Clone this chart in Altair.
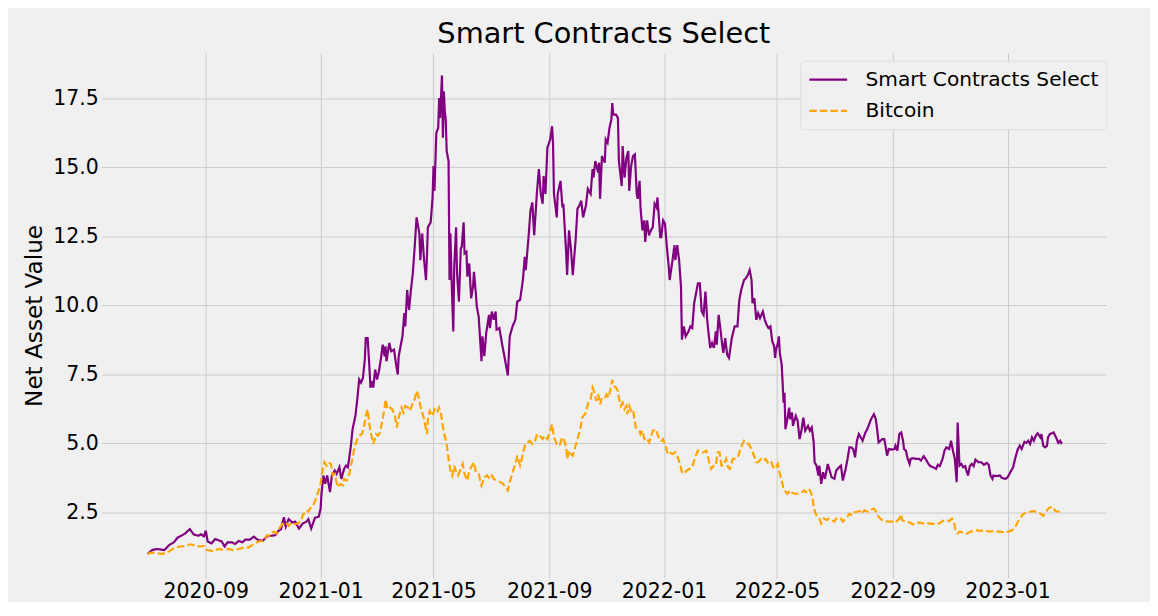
import altair as alt
import pandas as pd

SERIES = ["Smart Contracts Select", "Bitcoin"]
START = "2020-07-01"

# day offsets from START and net asset values, Smart Contracts Select
P_DAYS = [
    0, 5, 10, 18, 23, 28, 32, 37, 40, 45,
    49, 54, 57, 60, 62, 64, 68, 72, 76, 79,
    82, 85, 90, 93, 97, 101, 104, 109, 113, 116,
    120, 123, 127, 132, 136, 139, 142, 145, 147, 150,
    154, 157, 161, 165, 169, 171, 174, 178, 182, 184,
    185, 187, 189, 191, 194, 196, 199, 201, 204, 206,
    209, 211, 213, 216, 218, 221, 223, 225, 227, 229,
    231, 232, 234, 236, 237, 239, 240, 242, 244, 246,
    248, 250, 252, 253, 254, 257, 259, 262, 264, 266,
    267, 270, 271, 273, 274, 276, 278, 280, 282, 284,
    286, 289, 290, 292, 294, 296, 297, 298, 301, 303,
    304, 305, 307, 309, 310, 311, 313, 314, 315, 316,
    317, 318, 320, 321, 322, 323, 325, 326, 328, 329,
    331, 333, 334, 336, 337, 339, 340, 342, 344, 346,
    347, 349, 350, 352, 355, 356, 358, 360, 363, 364,
    366, 368, 370, 371, 374, 377, 379, 383, 385, 388,
    391, 393, 396, 399, 401, 402, 405, 407, 409, 411,
    414, 416, 418, 420, 421, 423, 425, 428, 430, 431,
    432, 435, 436, 439, 441, 442, 445, 446, 448, 450,
    452, 455, 457, 459, 461, 463, 466, 468, 471, 473,
    474, 476, 479, 480, 481, 483, 486, 487, 489, 491,
    493, 494, 495, 498, 500, 501, 504, 505, 507, 509,
    511, 512, 514, 516, 518, 520, 521, 523, 524, 526,
    528, 529, 531, 533, 535, 537, 539, 541, 542, 545,
    546, 548, 550, 552, 554, 555, 558, 560, 561, 563,
    565, 567, 568, 570, 572, 575, 577, 579, 581, 583,
    585, 587, 589, 591, 593, 595, 598, 600, 602, 604,
    605, 607, 609, 611, 612, 614, 616, 618, 621, 624,
    627, 629, 631, 634, 636, 638, 640, 642, 643, 645,
    647, 649, 651, 654, 656, 658, 660, 662, 664, 666,
    667, 668, 670, 671, 672, 674, 675, 676, 677, 678,
    680, 682, 683, 685, 686, 689, 691, 693, 695, 697,
    699, 702, 704, 706, 708, 709, 711, 713, 714, 716,
    718, 720, 723, 725, 727, 730, 732, 735, 737, 739,
    742, 744, 746, 748, 750, 752, 754, 756, 758, 760,
    763, 765, 767, 769, 772, 774, 775, 777, 779, 781,
    783, 785, 786, 788, 791, 794, 795, 797, 799, 801,
    803, 804, 806, 808, 810, 811, 813, 817, 820, 822,
    825, 827, 830, 832, 835, 838, 840, 842, 845, 847,
    849, 852, 854, 856, 858, 860, 861, 863, 865, 867,
    869, 872, 874, 876, 878, 880, 883, 886, 889, 892,
    894, 896, 898, 899, 902, 906, 908, 912, 914, 917,
    920, 922, 925, 927, 929, 932, 934, 936, 938, 940,
    942, 944, 946, 949, 950, 952, 954, 956, 957, 959,
    963, 966, 968, 970, 971, 972,
]
P_VALS = [
    1.00, 1.14, 1.18, 1.14, 1.32, 1.42, 1.59, 1.68, 1.74, 1.90,
    1.71, 1.66, 1.71, 1.64, 1.84, 1.45, 1.38, 1.54, 1.49, 1.45,
    1.27, 1.42, 1.42, 1.36, 1.47, 1.42, 1.52, 1.52, 1.63, 1.54,
    1.48, 1.49, 1.64, 1.66, 1.68, 1.83, 1.90, 2.33, 1.99, 2.26,
    2.14, 2.17, 1.92, 2.10, 2.17, 2.26, 1.92, 2.31, 2.35, 2.64,
    3.20, 3.84, 3.54, 3.84, 3.24, 3.84, 4.02, 3.90, 4.14, 3.72,
    4.08, 4.20, 4.14, 4.86, 5.52, 6.00, 6.60, 7.32, 7.20, 7.38,
    8.04, 8.82, 8.82, 7.68, 7.02, 7.26, 7.02, 7.68, 7.32, 7.62,
    8.04, 8.58, 8.16, 8.52, 7.98, 8.64, 8.34, 8.40, 7.92, 7.50,
    8.16, 8.70, 8.88, 9.72, 9.24, 10.56, 9.84, 10.56, 11.16, 12.12,
    13.19, 12.60, 11.64, 12.60, 11.64, 10.92, 11.76, 12.83, 13.01, 13.91,
    15.05, 14.15, 16.25, 16.43, 17.51, 16.79, 18.33, 16.07, 17.75, 17.03,
    16.73, 15.59, 15.23, 10.92, 12.60, 11.16, 9.06, 11.40, 12.83, 11.16,
    10.14, 12.06, 12.12, 13.01, 11.88, 11.94, 11.04, 11.52, 10.26, 10.68,
    11.22, 10.44, 9.96, 9.60, 7.98, 8.88, 8.16, 9.00, 9.66, 9.18,
    9.78, 9.48, 9.78, 9.12, 9.18, 8.58, 8.22, 7.46, 8.88, 9.24,
    9.48, 10.14, 10.20, 10.92, 11.76, 11.28, 12.47, 13.43, 13.73, 12.54,
    14.15, 14.94, 14.04, 13.68, 14.69, 14.04, 15.71, 16.01, 16.49, 15.89,
    14.04, 13.19, 14.04, 14.51, 13.55, 13.68, 11.88, 11.10, 12.72, 12.06,
    11.10, 12.36, 13.50, 13.62, 13.79, 13.19, 13.62, 14.22, 14.04, 14.94,
    14.63, 15.23, 14.81, 15.17, 13.86, 15.41, 15.17, 16.01, 15.89, 16.43,
    16.73, 17.33, 16.91, 16.91, 16.79, 15.23, 14.33, 15.77, 14.63, 15.35,
    15.59, 14.15, 15.05, 15.41, 15.47, 14.04, 13.86, 14.51, 13.55, 12.72,
    13.08, 12.30, 13.08, 12.54, 12.72, 12.83, 13.68, 13.55, 13.91, 12.47,
    12.47, 13.08, 12.96, 12.12, 11.40, 10.92, 11.64, 12.18, 11.64, 12.18,
    11.64, 10.68, 8.76, 9.24, 8.88, 9.06, 9.24, 9.18, 10.08, 10.44,
    10.80, 10.80, 9.78, 9.66, 10.50, 9.42, 8.46, 8.64, 8.46, 9.06,
    8.58, 9.66, 9.12, 8.52, 8.28, 8.82, 8.22, 8.10, 8.82, 9.24,
    9.24, 10.20, 10.56, 10.92, 10.98, 11.10, 11.28, 10.92, 10.08, 10.26,
    9.48, 9.72, 9.54, 9.78, 9.48, 9.30, 9.18, 9.24, 8.70, 8.52,
    8.10, 8.40, 8.64, 8.88, 8.28, 7.86, 7.20, 6.48, 6.84, 5.52,
    5.88, 6.30, 5.88, 6.12, 5.64, 6.00, 5.82, 5.16, 5.46, 5.94,
    5.46, 5.64, 5.46, 5.58, 5.04, 4.32, 4.20, 3.84, 4.20, 3.54,
    3.96, 3.72, 4.26, 4.02, 3.78, 3.72, 4.02, 4.14, 4.20, 3.66,
    4.08, 4.44, 4.86, 4.86, 4.80, 4.50, 5.10, 5.34, 5.22, 5.10,
    5.40, 5.52, 5.70, 5.88, 6.06, 5.88, 5.64, 5.04, 5.10, 5.16,
    5.16, 4.80, 4.56, 4.80, 4.78, 4.80, 4.92, 4.74, 5.34, 5.40,
    5.10, 4.80, 4.74, 4.44, 4.26, 4.44, 4.47, 4.44, 4.44, 4.38,
    4.54, 4.44, 4.26, 4.18, 4.14, 4.08, 4.23, 4.18, 4.44, 4.74,
    4.86, 4.80, 5.10, 4.74, 4.44, 3.60, 5.76, 4.20, 4.26, 4.14,
    4.18, 3.84, 4.18, 4.26, 4.18, 4.42, 4.32, 4.32, 4.23, 4.30,
    4.23, 3.84, 3.72, 3.84, 3.82, 3.84, 3.75, 3.72, 3.77, 3.96,
    4.14, 4.44, 4.80, 4.92, 4.80, 5.06, 5.02, 5.10, 4.98, 5.22,
    5.10, 5.28, 5.37, 5.22, 5.34, 4.92, 4.86, 4.92, 5.22, 5.34,
    5.40, 5.19, 5.02, 5.10, 5.02, 5.06,
]

# day offsets from START and net asset values, Bitcoin
B_DAYS = [
    0, 3, 9, 16, 21, 25, 30, 35, 40, 46,
    51, 56, 60, 63, 69, 76, 81, 86, 91, 97,
    102, 107, 113, 118, 123, 127, 130, 134, 137, 140,
    143, 147, 150, 153, 157, 159, 163, 165, 169, 171,
    174, 177, 179, 182, 184, 186, 188, 190, 192, 195,
    197, 199, 202, 205, 208, 209, 212, 215, 217, 220,
    223, 225, 228, 230, 232, 234, 236, 238, 240, 243,
    245, 247, 250, 252, 253, 255, 258, 260, 263, 265,
    267, 270, 272, 274, 277, 279, 282, 284, 286, 288,
    290, 292, 294, 297, 298, 300, 303, 305, 308, 310,
    312, 315, 318, 320, 322, 324, 326, 328, 330, 333,
    335, 337, 340, 342, 345, 347, 349, 352, 354, 355,
    358, 361, 364, 366, 368, 371, 375, 378, 383, 385,
    388, 391, 393, 396, 399, 401, 404, 406, 409, 412,
    414, 417, 420, 422, 425, 428, 430, 432, 435, 438,
    440, 442, 445, 446, 448, 450, 452, 455, 458, 460,
    462, 465, 466, 468, 471, 473, 475, 477, 479, 481,
    483, 486, 488, 490, 492, 494, 496, 498, 500, 501,
    503, 505, 507, 509, 510, 512, 514, 516, 517, 519,
    521, 523, 524, 526, 528, 530, 533, 535, 537, 540,
    542, 544, 546, 548, 550, 553, 555, 558, 561, 563,
    566, 568, 570, 573, 575, 579, 582, 585, 588, 591,
    594, 597, 599, 602, 604, 606, 608, 610, 612, 615,
    617, 619, 622, 625, 628, 630, 634, 636, 639, 642,
    644, 647, 649, 652, 655, 657, 660, 663, 665, 667,
    669, 670, 672, 674, 676, 677, 680, 683, 685, 688,
    692, 695, 698, 700, 703, 705, 707, 708, 710, 712,
    714, 716, 719, 722, 724, 727, 730, 732, 735, 737,
    739, 742, 744, 746, 749, 751, 754, 757, 759, 762,
    765, 767, 770, 772, 774, 777, 779, 781, 787, 792,
    795, 799, 801, 802, 806, 810, 813, 817, 820, 824,
    827, 831, 834, 838, 841, 845, 848, 852, 855, 857,
    859, 861, 863, 867, 871, 875, 878, 882, 885, 889,
    892, 896, 899, 903, 906, 911, 915, 919, 922, 925,
    927, 931, 934, 938, 941, 945, 949, 952, 955, 958,
    962, 965, 969, 972,
]
B_VALS = [
    1.00, 1.05, 1.03, 1.00, 1.06, 1.14, 1.24, 1.27, 1.29, 1.35,
    1.29, 1.27, 1.29, 1.14, 1.11, 1.18, 1.14, 1.18, 1.14, 1.18,
    1.23, 1.23, 1.36, 1.45, 1.47, 1.68, 1.66, 1.81, 1.74, 1.92,
    2.07, 2.14, 2.02, 2.14, 2.07, 2.10, 2.17, 2.40, 2.58, 2.53,
    2.71, 2.82, 3.00, 3.30, 3.54, 4.02, 4.32, 4.20, 4.32, 4.26,
    3.84, 3.90, 3.42, 3.54, 3.48, 3.72, 3.66, 3.96, 4.32, 4.86,
    5.16, 5.28, 5.34, 5.58, 6.00, 6.24, 5.64, 5.28, 4.98, 5.34,
    5.28, 5.40, 5.88, 6.30, 6.60, 6.24, 6.30, 6.24, 6.00, 5.58,
    5.94, 6.30, 6.12, 6.36, 6.30, 6.18, 6.48, 6.60, 6.90, 6.72,
    6.36, 6.12, 5.88, 5.34, 5.88, 6.18, 6.00, 6.24, 6.12, 6.30,
    6.06, 5.40, 4.98, 4.44, 4.02, 3.84, 4.20, 3.96, 3.84, 4.08,
    4.26, 3.90, 3.66, 4.02, 4.20, 4.32, 3.96, 3.90, 3.60, 3.48,
    3.78, 3.84, 3.72, 3.84, 3.72, 3.66, 3.60, 3.54, 3.30, 3.60,
    3.96, 4.26, 4.56, 4.20, 4.62, 4.92, 5.04, 5.10, 4.98, 5.10,
    5.34, 5.28, 5.16, 5.28, 5.16, 5.46, 5.70, 5.22, 4.98, 4.92,
    5.16, 5.22, 4.86, 4.44, 4.74, 4.62, 4.56, 4.92, 5.28, 5.52,
    5.94, 6.06, 6.12, 6.42, 6.60, 7.02, 6.84, 6.54, 6.78, 6.42,
    6.66, 6.66, 6.78, 6.66, 6.96, 7.30, 7.08, 7.02, 6.90, 6.66,
    6.36, 6.48, 6.24, 6.36, 6.06, 6.36, 6.18, 6.24, 6.00, 5.58,
    5.52, 5.46, 5.34, 5.46, 5.16, 5.22, 5.04, 5.22, 5.46, 5.52,
    5.34, 5.16, 5.10, 5.16, 4.98, 4.62, 4.68, 4.62, 4.68, 4.56,
    4.26, 3.96, 3.90, 4.02, 4.06, 4.14, 4.50, 4.74, 4.68, 4.68,
    4.74, 4.32, 4.08, 4.20, 4.20, 4.68, 4.68, 4.20, 4.20, 4.44,
    4.14, 4.08, 4.44, 4.44, 4.56, 4.80, 5.10, 5.04, 4.98, 4.80,
    4.62, 4.32, 4.32, 4.44, 4.38, 4.44, 4.26, 4.32, 4.14, 4.08,
    4.20, 4.26, 3.90, 3.66, 3.36, 3.30, 3.18, 3.30, 3.22, 3.18,
    3.18, 3.22, 3.30, 3.24, 3.36, 3.24, 3.00, 2.71, 2.46, 2.35,
    2.28, 2.10, 2.28, 2.22, 2.28, 2.22, 2.17, 2.28, 2.31, 2.28,
    2.17, 2.28, 2.35, 2.46, 2.40, 2.50, 2.53, 2.55, 2.46, 2.58,
    2.53, 2.55, 2.62, 2.64, 2.55, 2.35, 2.28, 2.22, 2.17, 2.17,
    2.14, 2.28, 2.43, 2.22, 2.17, 2.14, 2.07, 2.10, 2.14, 2.10,
    2.14, 2.10, 2.10, 2.07, 2.10, 2.19, 2.22, 2.19, 2.28, 2.17,
    1.81, 1.74, 1.81, 1.78, 1.74, 1.81, 1.83, 1.86, 1.83, 1.86,
    1.83, 1.81, 1.83, 1.81, 1.81, 1.78, 1.81, 1.86, 1.95, 2.17,
    2.28, 2.46, 2.50, 2.53, 2.55, 2.53, 2.46, 2.38, 2.53, 2.67,
    2.71, 2.55, 2.53, 2.50,
]

Y_TICKS = [2.5, 5.0, 7.5, 10.0, 12.5, 15.0, 17.5]
X_TICKS = [(2020, 9), (2021, 1), (2021, 5), (2021, 9), (2022, 1), (2022, 5), (2022, 9), (2023, 1)]

assert len(P_DAYS) == len(P_VALS), (len(P_DAYS), len(P_VALS))
assert len(B_DAYS) == len(B_VALS), (len(B_DAYS), len(B_VALS))

base = pd.Timestamp(START)
rows = []
for name, days, vals in [(SERIES[0], P_DAYS, P_VALS), (SERIES[1], B_DAYS, B_VALS)]:
    for i, (d, v) in enumerate(zip(days, vals)):
        rows.append({"date": (base + pd.Timedelta(days=d)).strftime("%Y-%m-%dT00:00:00"),
                     "value": v, "series": name, "idx": i})
df = pd.DataFrame(rows)

FONT = "DejaVu Sans"
TICK_SIZE = 20.6
legend = alt.Legend(
    title=None, orient="none", legendX=704, legendY=8, direction="vertical",
    symbolType="M-1,0L2.8,0", symbolSize=400, symbolStrokeWidth=2.2,
    labelFontSize=20.3, labelFont=FONT, labelColor="black", labelLimit=0,
    labelOffset=35, fillColor="#f0f0f0", strokeColor="#dcdcdc",
    cornerRadius=4, padding=7.5, rowPadding=9.5,
)

chart = alt.Chart(df).mark_line(strokeWidth=2.2).encode(
    x=alt.X("date:T",
            scale=alt.Scale(domain=[alt.DateTime(year=2020, month=5, date=13),
                                    alt.DateTime(year=2023, month=4, date=16)]),
            axis=alt.Axis(values=[alt.DateTime(year=y, month=m, date=1) for y, m in X_TICKS],
                          format="%Y-%m", title=None, labelFontSize=TICK_SIZE, labelFont=FONT,
                          labelColor="black", labelPadding=4, ticks=False, domain=False,
                          grid=True, gridColor="#cbcbcb", gridWidth=1, labelAngle=0,
                          labelFlush=False, labelOverlap=False)),
    y=alt.Y("value:Q",
            scale=alt.Scale(domain=[0.126, 19.15], nice=False, zero=False),
            axis=alt.Axis(values=Y_TICKS, format=".1f", title="Net Asset Value",
                          titleFontSize=23.3, titleFont=FONT, titleFontWeight="normal",
                          titleColor="black", titleX=-67, titleBaseline="middle",
                          labelFontSize=TICK_SIZE, labelFont=FONT, labelColor="black",
                          labelPadding=3, ticks=False, domain=False, grid=True,
                          gridColor="#cbcbcb", gridWidth=1, labelOverlap=False)),
    color=alt.Color("series:N", scale=alt.Scale(domain=SERIES, range=["purple", "orange"]),
                    legend=legend),
    strokeDash=alt.StrokeDash("series:N",
                              scale=alt.Scale(domain=SERIES, range=[[1, 0], [7.4, 3.2]]),
                              legend=legend),
    order=alt.Order("idx:Q"),
).properties(
    width=1012, height=529,
    title=alt.TitleParams("Smart Contracts Select", fontSize=29, font=FONT,
                          fontWeight="normal", color="black", anchor="middle",
                          baseline="alphabetic", offset=-19),
    autosize=alt.AutoSizeParams(type="none"),
    padding={"left": 94, "top": 43, "right": 44, "bottom": 22},
).configure(
    background="#f0f0f0", font=FONT,
).configure_view(stroke=None)

chart.save("out.html", embed_options={"renderer": "svg", "actions": False})
